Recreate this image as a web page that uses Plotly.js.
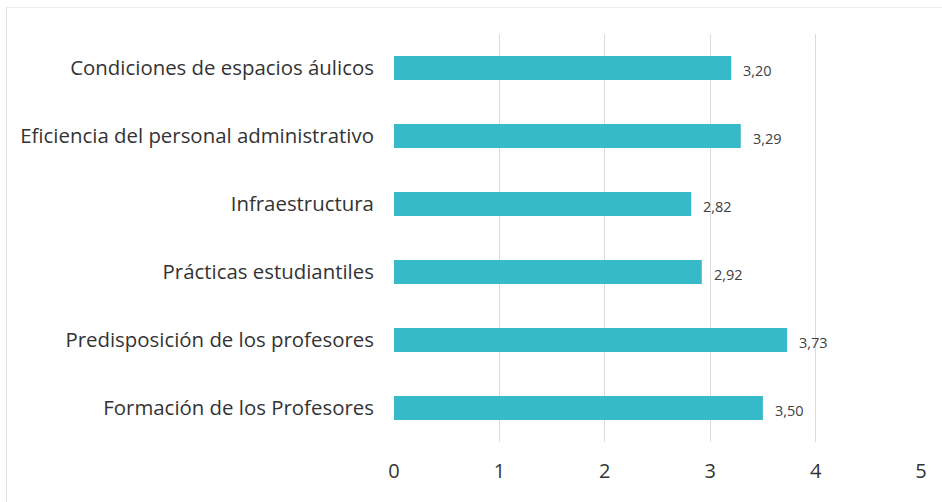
<!DOCTYPE html>
<html><head><meta charset="utf-8">
<script src="https://cdn.plot.ly/plotly-3.0.1.min.js"></script>
<style>
html,body{margin:0;padding:0;background:#fff;}
#wrap{position:relative;width:942px;height:502px;}
#chart{width:942px;height:502px;}
#frame{position:absolute;left:6px;top:7px;width:940px;height:500px;border-left:1.5px solid #e2e2e2;border-top:1.5px solid #ececec;pointer-events:none;}
</style></head>
<body><div id="wrap"><div id="chart"></div><div id="frame"></div></div>
<script>
var categories = ["Condiciones de espacios áulicos","Eficiencia del personal administrativo","Infraestructura","Prácticas estudiantiles","Predisposición de los profesores","Formación de los Profesores"];
var values = [3.20, 3.29, 2.82, 2.92, 3.73, 3.50];
var xTicks = [0,1,2,3,4,5];

var annotations = values.map(function(v,i){
  return {x:v, y:categories[i], xref:'x', yref:'y', text:v.toFixed(2).replace('.',','),
    showarrow:false, xanchor:'left', xshift:10, yshift:-2,
    font:{family:'Open Sans', size:14.5, color:'#404040'}};
});

var data = [{
  type:'bar', orientation:'h', x:values, y:categories, width:0.35,
  marker:{color:'#36b9c9', line:{width:0}}, hoverinfo:'skip'
}];

var layout = {
  width:942, height:502,
  margin:{l:394, r:21, t:34, b:60},
  paper_bgcolor:'#fff', plot_bgcolor:'#fff',
  showlegend:false,
  xaxis:{range:[0,5], tickvals:xTicks, ticktext:xTicks.map(String), showgrid:true, gridcolor:'#dcdcdc', gridwidth:1,
    zeroline:false, showline:false, ticks:'outside', ticklen:11, tickcolor:'rgba(0,0,0,0)',
    tickfont:{family:'Open Sans', size:20, color:'#333'}, fixedrange:true},
  yaxis:{autorange:'reversed', showgrid:false, zeroline:false, showline:false,
    ticks:'outside', ticklen:15, tickcolor:'rgba(0,0,0,0)',
    tickfont:{family:'Open Sans', size:20.4, color:'#333'}},
  annotations:annotations,
  bargap:0.65
};
Plotly.newPlot('chart', data, layout, {displayModeBar:false, staticPlot:true});
</script></body></html>
